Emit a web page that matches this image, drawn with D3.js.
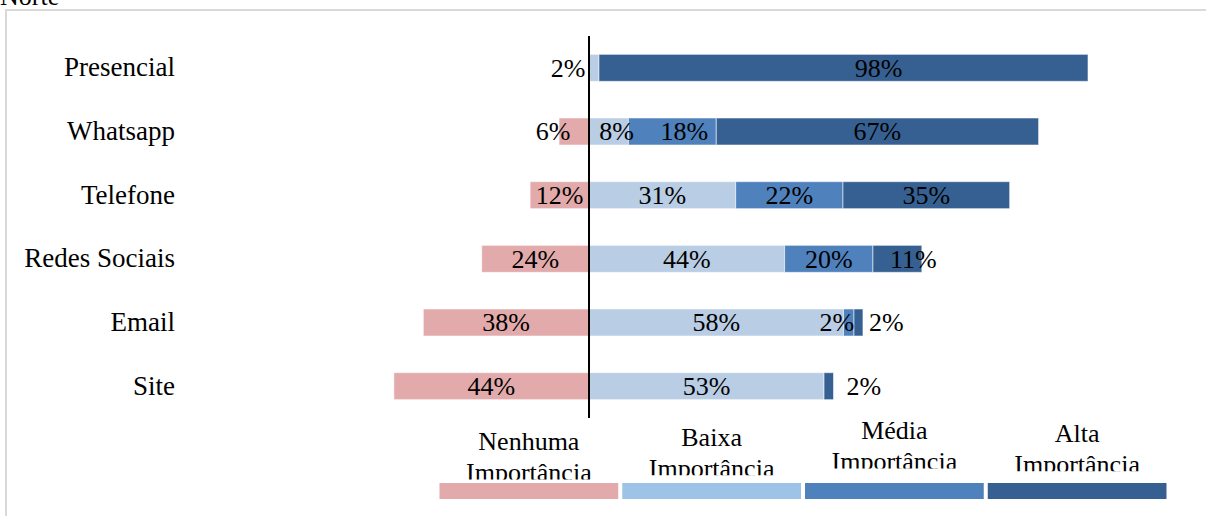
<!DOCTYPE html>
<html>
<head>
<meta charset="utf-8">
<script src="https://cdn.jsdelivr.net/npm/d3@7"></script>
<style>
  body { margin: 0; background: #fff; }
  svg { display: block; font-family: "Liberation Serif", "Times New Roman", serif; }
</style>
</head>
<body>
<script>
const categories = ["Presencial", "Whatsapp", "Telefone", "Redes Sociais", "Email", "Site"];
const seriesNames = ["Nenhuma Importância", "Baixa Importância", "Média Importância", "Alta Importância"];

// bar lengths as drawn in the picture (percent)
const nenhuma = [0, 6, 11.8, 21.5, 33.2, 39.1];
const baixa = [2, 7.9, 29.4, 39.2, 51.0, 47.1];
const media = [0, 17.6, 21.5, 17.7, 2.1, 0];
const alta = [98, 64.6, 33.4, 9.8, 1.8, 1.9];

// printed data labels
const nenhumaLabels = ["", "6%", "12%", "24%", "38%", "44%"];
const baixaLabels = ["2%", "8%", "31%", "44%", "58%", "53%"];
const mediaLabels = ["", "18%", "22%", "20%", "2%", ""];
const altaLabels = ["98%", "67%", "35%", "11%", "2%", "2%"];

const width = 1206;
const height = 516;
const fontSize = 26;

const barColors = ["#e2aaaa", "#b9cde5", "#4f81bd", "#376092"];
const legendColors = ["#e2aaaa", "#9dc3e6", "#4f81bd", "#376092"];

// label nudges (px) where the original puts them off-centre
const labelShift = [
  [0, -21, 0, 0, 0, 0],
  [-26, 8, 0, 0, 0, 0],
  [0, 12, 0, 0, -12, 0],
  [35, 0, 0, 16, 28, 35]
];

const svg = d3.select("body").append("svg")
  .attr("width", width)
  .attr("height", height);

// frame
svg.append("path")
  .attr("d", "M6," + height + "V10H" + width)
  .attr("fill", "none")
  .attr("stroke", "#d9d9d9")
  .attr("stroke-width", 2);

svg.append("text")
  .attr("x", 0)
  .attr("y", 5)
  .attr("font-size", fontSize)
  .text("Norte");

const x = d3.scaleLinear().domain([-50, 100]).range([339.5, 1088]);
const y = d3.scaleBand().domain(categories).range([36, 418])
  .paddingInner(0.576).paddingOuter(0.288);

const values = [nenhuma, baixa, media, alta];
const labels = [nenhumaLabels, baixaLabels, mediaLabels, altaLabels];

const segments = [];
categories.forEach((c, i) => {
  segments.push({ cat: c, s: 0, x0: -nenhuma[i], x1: 0, label: nenhumaLabels[i], dx: labelShift[0][i] });
  let acc = 0;
  for (let s = 1; s < 4; s++) {
    const v = values[s][i];
    segments.push({ cat: c, s: s, x0: acc, x1: acc + v, label: labels[s][i], dx: labelShift[s][i] });
    acc += v;
  }
});

const bars = segments.filter((d) => d.x1 > d.x0);

svg.append("g")
  .selectAll("rect")
  .data(bars)
  .enter()
  .append("rect")
  .attr("x", (d) => x(d.x0))
  .attr("y", (d) => y(d.cat))
  .attr("width", (d) => x(d.x1) - x(d.x0))
  .attr("height", y.bandwidth())
  .attr("fill", (d) => barColors[d.s])
  .attr("stroke", "rgba(255,255,255,0.55)")
  .attr("stroke-width", 1);

svg.append("g")
  .selectAll("text")
  .data(segments.filter((d) => d.label !== ""))
  .enter()
  .append("text")
  .attr("x", (d) => (x(d.x0) + x(d.x1)) / 2 + d.dx)
  .attr("y", (d) => y(d.cat) + y.bandwidth() / 2)
  .attr("dy", "0.34em")
  .attr("text-anchor", "middle")
  .attr("font-size", fontSize)
  .attr("fill", "#000")
  .text((d) => d.label);

// zero line
svg.append("line")
  .attr("x1", x(0)).attr("x2", x(0))
  .attr("y1", 36).attr("y2", 418)
  .attr("stroke", "#000")
  .attr("stroke-width", 2);

// category names
const yAxis = d3.axisLeft(y).tickSize(0).tickPadding(0);
const yg = svg.append("g")
  .attr("transform", "translate(175,0)")
  .call(yAxis);
yg.select(".domain").remove();
yg.selectAll("text")
  .attr("font-size", 27)
  .attr("font-family", "Liberation Serif, Times New Roman, serif")
  .attr("fill", "#000");

// legend
const lx = d3.scaleBand().domain(seriesNames).range([439.5, 1166.5]).paddingInner(0.022);
const legendTop = [450, 445.7, 439, 441.7];

const defs = svg.append("defs");
const legend = svg.append("g");
seriesNames.forEach((name, i) => {
  const cx = lx(name) + lx.bandwidth() / 2;
  const base = legendTop[i];
  defs.append("clipPath").attr("id", "clip" + i)
    .append("rect")
    .attr("x", lx(name) - 10)
    .attr("y", base - 40)
    .attr("width", lx.bandwidth() + 20)
    .attr("height", 69.5);
  const words = name.split(" ");
  const t = legend.append("text")
    .attr("clip-path", "url(#clip" + i + ")")
    .attr("text-anchor", "middle")
    .attr("font-size", fontSize);
  t.append("tspan").attr("x", cx).attr("y", base).text(words[0]);
  t.append("tspan").attr("x", cx).attr("y", base + 31).text(words[1]);
  legend.append("rect")
    .attr("x", lx(name))
    .attr("y", 483)
    .attr("width", lx.bandwidth())
    .attr("height", 16)
    .attr("fill", legendColors[i]);
});
</script>
</body>
</html>
